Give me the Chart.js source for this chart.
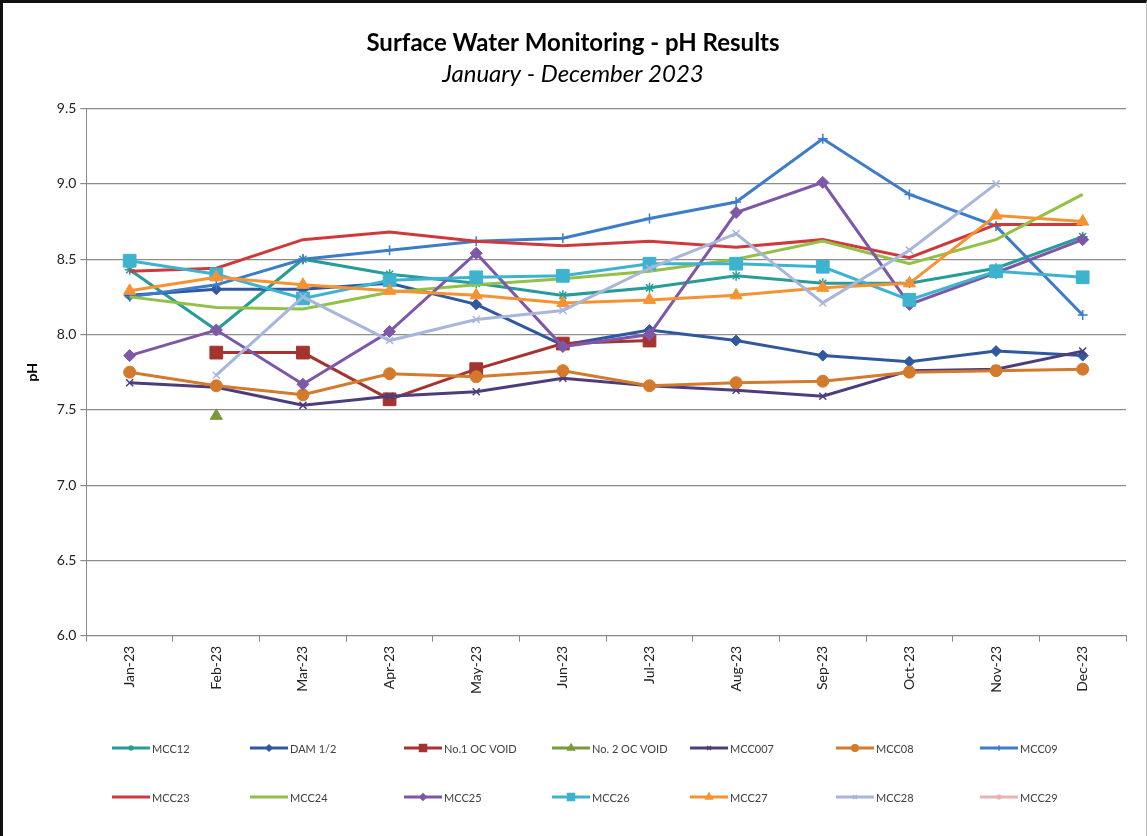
<!DOCTYPE html>
<html>
<head>
<meta charset="utf-8">
<title>Surface Water Monitoring - pH Results</title>
<script src="https://cdn.jsdelivr.net/npm/chart.js@4.4.1/dist/chart.umd.min.js"></script>
<style>
  html, body { margin: 0; padding: 0; background: #fff; }
  #wrap {
    position: relative; width: 1147px; height: 836px; box-sizing: border-box;
    border-top: 3px solid #111; border-left: 3px solid #111; border-right: 1px solid #bbb;
  }
</style>
</head>
<body>
<div id="wrap"><canvas id="phChart"></canvas></div>
<script>
// ─── data ─────────────────────────────────────────────────────
const months = ['Jan-23', 'Feb-23', 'Mar-23', 'Apr-23', 'May-23', 'Jun-23',
                'Jul-23', 'Aug-23', 'Sep-23', 'Oct-23', 'Nov-23', 'Dec-23']

const mcc12     = [8.43, 8.03, 8.50, 8.40, 8.34, 8.26, 8.31, 8.39, 8.34, 8.34, 8.44, 8.65]
const dam12     = [8.26, 8.30, 8.30, 8.34, 8.20, 7.93, 8.03, 7.96, 7.86, 7.82, 7.89, 7.86]
const no1OcVoid = [null, 7.88, 7.88, 7.57, 7.77, 7.94, 7.96, null, null, null, null, null]
const no2OcVoid = [null, 7.46, null, null, null, null, null, null, null, null, null, null]
const mcc007    = [7.68, 7.65, 7.53, 7.59, 7.62, 7.71, 7.66, 7.63, 7.59, 7.76, 7.77, 7.89]
const mcc08     = [7.75, 7.66, 7.60, 7.74, 7.72, 7.76, 7.66, 7.68, 7.69, 7.75, 7.76, 7.77]
const mcc09     = [8.25, 8.33, 8.50, 8.56, 8.62, 8.64, 8.77, 8.88, 9.30, 8.93, 8.72, 8.13]
const mcc23     = [8.42, 8.44, 8.63, 8.68, 8.62, 8.59, 8.62, 8.58, 8.63, 8.51, 8.73, 8.73]
const mcc24     = [8.25, 8.18, 8.17, 8.28, 8.33, 8.37, 8.42, 8.50, 8.62, 8.47, 8.63, 8.93]
const mcc25     = [7.86, 8.03, 7.67, 8.02, 8.54, 7.92, 8.00, 8.81, 9.01, 8.20, 8.41, 8.63]
const mcc26     = [8.49, 8.40, 8.24, 8.36, 8.38, 8.39, 8.47, 8.47, 8.45, 8.23, 8.42, 8.38]
const mcc27     = [8.29, 8.38, 8.33, 8.29, 8.26, 8.21, 8.23, 8.26, 8.31, 8.34, 8.79, 8.75]
const mcc28     = [null, 7.73, 8.25, 7.96, 8.10, 8.16, 8.44, 8.67, 8.21, 8.56, 9.00, null]
const mcc29     = [null, null, null, null, null, null, null, null, null, null, null, null]

const yMin = 6.0, yMax = 9.5, yStep = 0.5

// ─── series styling ───────────────────────────────────────────
const series = [
  { label: 'MCC12',        data: mcc12,     color: '#279C99', marker: 'star',     r: 5 },
  { label: 'DAM 1/2',      data: dam12,     color: '#30589F', marker: 'rectRot',  r: 5.5 },
  { label: 'No.1 OC VOID', data: no1OcVoid, color: '#A5332F', marker: 'rect',     r: 9 },
  { label: 'No. 2 OC VOID',data: no2OcVoid, color: '#7A9A3A', marker: 'triangle', r: 7 },
  { label: 'MCC007',       data: mcc007,    color: '#4E3D7D', marker: 'crossRot', r: 5 },
  { label: 'MCC08',        data: mcc08,     color: '#D47A2C', marker: 'circle',   r: 6 },
  { label: 'MCC09',        data: mcc09,     color: '#3D7CC9', marker: 'cross',    r: 5 },
  { label: 'MCC23',        data: mcc23,     color: '#D0393B', marker: false,      r: 0 },
  { label: 'MCC24',        data: mcc24,     color: '#93C047', marker: false,      r: 0 },
  { label: 'MCC25',        data: mcc25,     color: '#7E58A8', marker: 'rectRot',  r: 6 },
  { label: 'MCC26',        data: mcc26,     color: '#3DB3CF', marker: 'rect',     r: 9 },
  { label: 'MCC27',        data: mcc27,     color: '#F79232', marker: 'triangle', r: 7 },
  { label: 'MCC28',        data: mcc28,     color: '#A7B6DA', marker: 'crossRot', r: 5 },
  { label: 'MCC29',        data: mcc29,     color: '#E8B3B1', marker: 'star',     r: 5 },
]

const FONT = "'Lato', 'Open Sans', sans-serif"

// legend drawn as an Excel-like grid (2 rows x 7 columns)
const legendGrid = {
  id: 'legendGrid',
  afterDraw(chart) {
    const ctx  = chart.ctx
    const cols = [109, 247, 401, 549, 687, 833, 977]
    const rows = [745, 794]
    ctx.save()
    ctx.font = '11px ' + FONT
    ctx.textBaseline = 'middle'
    chart.data.datasets.forEach((ds, i) => {
      const x = cols[i % 7], y = rows[Math.floor(i / 7)]
      ctx.strokeStyle = ds.borderColor
      ctx.fillStyle   = ds.borderColor
      ctx.lineWidth   = 3
      ctx.beginPath(); ctx.moveTo(x, y); ctx.lineTo(x + 38, y); ctx.stroke()
      if (ds.pointStyle && ds.pointRadius > 0 && Chart.helpers && Chart.helpers.drawPoint) {
        ctx.lineWidth = 1.5
        Chart.helpers.drawPoint(ctx, { pointStyle: ds.pointStyle, radius: ds.pointRadius * 0.55, borderWidth: 1.5, rotation: 0 }, x + 19, y)
      }
      ctx.fillStyle = '#404040'
      ctx.fillText(ds.label, x + 40, y + 1)
    })
    ctx.restore()
  }
}

new Chart(document.getElementById('phChart'), {
  type: 'line',
  data: {
    labels: months,
    datasets: series.map((s, i) => ({
      label: s.label,
      data: s.data,
      order: series.length - i,
      borderColor: s.color,
      backgroundColor: s.color,
      borderWidth: 3,
      pointStyle: s.marker,
      pointRadius: s.r,
      pointHoverRadius: s.r,
      pointBorderWidth: (s.marker === 'star' || s.marker === 'cross' || s.marker === 'crossRot') ? 1.5 : 1,
      pointBackgroundColor: s.color,
      pointBorderColor: s.color,
      tension: 0,
      fill: false,
    }))
  },
  options: {
    responsive: true, maintainAspectRatio: false, animation: false,
    layout: { padding: { top: 26, left: 17, right: 20, bottom: 138 } },
    plugins: {
      legend: { display: false },
      tooltip: { enabled: false },
      title: {
        display: true, text: 'Surface Water Monitoring - pH Results', color: '#000',
        font: { family: FONT, size: 24, weight: 'bold' }, padding: { top: 0, bottom: 2 }
      },
      subtitle: {
        display: true, text: 'January - December 2023', color: '#000',
        font: { family: FONT, size: 24, style: 'italic' }, padding: { top: 0, bottom: 20 }
      }
    },
    scales: {
      x: {
        offset: true,
        grid: { display: true, drawOnChartArea: false, drawTicks: true, tickLength: 6, offset: true, color: '#888' },
        border: { display: true, color: '#888', width: 1 },
        ticks: { color: '#222', font: { family: FONT, size: 14 }, maxRotation: 90, minRotation: 90, padding: 4 }
      },
      y: {
        min: yMin, max: yMax,
        grid: { color: '#8c8c8c', lineWidth: 1.2, tickLength: 6 },
        border: { display: true, color: '#888', width: 1 },
        ticks: { stepSize: yStep, color: '#222', font: { family: FONT, size: 14 }, padding: 4,
                 callback: v => v.toFixed(1) },
        title: { display: true, text: 'pH', color: '#000', font: { family: FONT, size: 14, weight: 'bold' }, padding: { bottom: 12 } }
      }
    }
  },
  plugins: [legendGrid]
})
</script>
</body>
</html>
